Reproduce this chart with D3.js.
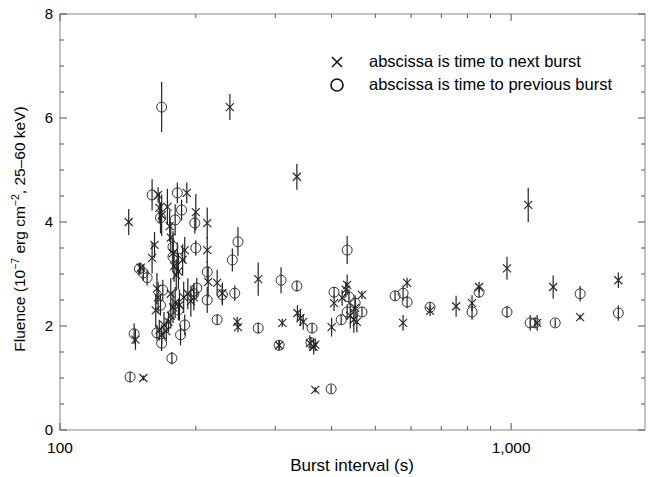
<!DOCTYPE html>
<html><head><meta charset="utf-8">
<script src="https://cdn.jsdelivr.net/npm/d3@7"></script>
<style>body{margin:0;background:#fff}svg{display:block}</style>
</head><body>
<svg id="c" width="653" height="477"></svg>
<script>
// [interval (s), fluence, error]
const nextBurst = [
[142,4.0,0.25],[153,1.0,0.05],[147,1.74,0.2],[151,3.12,0.1],[160,3.31,0.3],[162,3.56,0.25],
[165,4.52,0.15],[168,4.13,0.4],[166,4.27,0.3],[173,4.29,0.35],[164,2.72,0.3],[165,2.55,0.3],
[163,2.3,0.3],[166,1.92,0.2],[168,1.83,0.2],[170,2.02,0.25],[172,1.9,0.2],[174,2.08,0.2],
[176,2.2,0.25],[178,2.36,0.3],[176,2.62,0.3],[175,3.92,0.3],[176,3.7,0.3],[178,3.4,0.3],
[179,3.15,0.3],[181,2.98,0.3],[183,3.05,0.35],[187,3.27,0.3],[189,3.46,0.25],[191,4.56,0.2],
[200,4.19,0.35],[212,3.98,0.3],[212,3.46,0.25],[180,2.45,0.3],[184,2.4,0.3],[188,2.55,0.3],
[195,2.48,0.3],[192,2.62,0.3],[198,2.55,0.25],[213,2.85,0.3],[223,2.83,0.25],[229,2.63,0.2],
[238,6.21,0.25],[247,2.08,0.1],[248,1.98,0.1],[275,2.9,0.32],[311,2.06,0.08],[306,1.63,0.1],
[336,2.25,0.15],[341,2.15,0.15],[346,2.08,0.15],[335,4.87,0.25],[358,1.67,0.15],[365,1.6,0.15],
[368,1.64,0.12],[368,0.77,0.05],[400,1.98,0.18],[405,2.44,0.15],[422,2.54,0.15],[433,2.79,0.2],
[430,2.7,0.15],[467,2.6,0.08],[451,2.35,0.2],[440,2.2,0.25],[448,2.12,0.25],[455,2.08,0.2],
[576,2.06,0.15],[588,2.83,0.1],[661,2.29,0.1],[755,2.38,0.2],[819,2.44,0.15],[849,2.75,0.1],
[979,3.11,0.22],[1091,4.33,0.33],[1142,2.06,0.15],[1239,2.75,0.22],[1422,2.17,0.05],[1728,2.88,0.15]
];
const prevBurst = [
[143,1.02,0.1],[146,1.85,0.2],[150,3.1,0.12],[153,3.02,0.15],[156,2.93,0.15],[160,4.52,0.3],
[168,6.21,0.48],[167,4.08,0.3],[180,4.04,0.3],[182,4.56,0.2],[186,4.23,0.2],[178,3.52,0.3],
[182,3.31,0.3],[199,3.98,0.2],[200,3.5,0.15],[212,3.04,0.2],[201,2.73,0.2],[198,2.62,0.2],
[229,2.6,0.2],[244,2.63,0.15],[241,3.27,0.22],[248,3.62,0.28],[223,2.12,0.1],[275,1.96,0.1],
[309,2.88,0.25],[335,2.77,0.1],[306,1.63,0.08],[362,1.96,0.1],[360,1.68,0.1],[433,3.46,0.27],
[405,2.65,0.1],[437,2.56,0.15],[420,2.12,0.1],[433,2.27,0.15],[451,2.44,0.15],[467,2.27,0.1],
[399,0.79,0.08],[553,2.58,0.1],[576,2.63,0.15],[588,2.46,0.12],[661,2.36,0.1],[819,2.27,0.15],
[849,2.65,0.1],[979,2.27,0.12],[1102,2.06,0.15],[1130,2.06,0.1],[1252,2.06,0.08],[1422,2.62,0.15],
[1728,2.25,0.15],[164,1.87,0.15],[168,1.67,0.15],[167,2.4,0.2],[177,1.38,0.12],[178,3.33,0.3],
[169,2.69,0.2],[183,2.31,0.2],[189,2.02,0.2],[185,1.83,0.2],[212,2.5,0.25]
];
const xDomain = [100, 1980];
const yDomain = [0, 8];
const xTickLabels = [[100,"100"],[1000,"1,000"]];
const yTickLabels = [0,2,4,6,8];
const legendLabels = ["abscissa is time to next burst","abscissa is time to previous burst"];

const svg = d3.select("#c");
const font = "'Liberation Sans', Arial, Helvetica, sans-serif";
const L=60, R=645, T=14, B=430;
const x = d3.scaleLog().domain(xDomain).range([L,R]);
const y = d3.scaleLinear().domain(yDomain).range([B,T]);

// frame
svg.append("rect").attr("x",L).attr("y",T).attr("width",R-L).attr("height",B-T)
  .attr("fill","none").attr("stroke","#888").attr("stroke-width",1);

// y ticks
const yMinor = d3.range(0,8.01,0.5);
yMinor.forEach(v=>{
  const major = Number.isInteger(v) && v%2===0;
  const len = major?7:4;
  svg.append("line").attr("x1",L).attr("x2",L+len).attr("y1",y(v)).attr("y2",y(v)).attr("stroke","#555");
  svg.append("line").attr("x1",R).attr("x2",R-len).attr("y1",y(v)).attr("y2",y(v)).attr("stroke","#555");
});
// x ticks
const xt = [100,200,300,400,500,600,700,800,900,1000];
xt.forEach(v=>{
  const len = (v===100||v===1000)?7:4;
  svg.append("line").attr("x1",x(v)).attr("x2",x(v)).attr("y1",B).attr("y2",B-len).attr("stroke","#555");
  svg.append("line").attr("x1",x(v)).attr("x2",x(v)).attr("y1",T).attr("y2",T+len).attr("stroke","#555");
});

// tick labels
yTickLabels.forEach(v=>{
  svg.append("text").attr("x",L-7).attr("y",y(v)+5).attr("text-anchor","end")
    .attr("font-family",font).attr("font-size",15).text(v);
});
xTickLabels.forEach(([v,t])=>{
  svg.append("text").attr("x",x(v)).attr("y",453).attr("text-anchor","middle")
    .attr("font-family",font).attr("font-size",15.5).text(t);
});

// axis titles
svg.append("text").attr("x",352).attr("y",471).attr("text-anchor","middle")
  .attr("font-family",font).attr("font-size",17).text("Burst interval (s)");
const yt = svg.append("text").attr("transform","translate(25,229) rotate(-90)")
  .attr("text-anchor","middle").attr("font-family",font).attr("font-size",15.5);
yt.append("tspan").text("Fluence (10");
yt.append("tspan").attr("dy",-6).attr("font-size",10.5).text("−7");
yt.append("tspan").attr("dy",6).text(" erg cm");
yt.append("tspan").attr("dy",-6).attr("font-size",10.5).text("−2");
yt.append("tspan").attr("dy",6).text(", 25–60 keV)");

// data
const g = svg.append("g");
function errBars(data){
  g.selectAll(null).data(data).enter().append("line")
    .attr("x1",d=>x(d[0])).attr("x2",d=>x(d[0]))
    .attr("y1",d=>y(d[1]-d[2])).attr("y2",d=>y(d[1]+d[2]))
    .attr("stroke","#222").attr("stroke-width",1.2);
}
errBars(prevBurst);
errBars(nextBurst);
g.selectAll(null).data(prevBurst).enter().append("circle")
  .attr("cx",d=>x(d[0])).attr("cy",d=>y(d[1])).attr("r",5)
  .attr("fill","none").attr("stroke","#333").attr("stroke-width",1);
const s=4;
g.selectAll(null).data(nextBurst).enter().append("path")
  .attr("d",d=>{const cx=x(d[0]),cy=y(d[1]);return `M${cx-s},${cy-s}L${cx+s},${cy+s}M${cx-s},${cy+s}L${cx+s},${cy-s}`;})
  .attr("stroke","#222").attr("stroke-width",1.1).attr("fill","none");

// legend
const lx=337, ly1=62, ly2=85;
svg.append("path").attr("d",`M${lx-5},${ly1-5}L${lx+5},${ly1+5}M${lx-5},${ly1+5}L${lx+5},${ly1-5}`)
  .attr("stroke","#111").attr("stroke-width",1.5);
svg.append("circle").attr("cx",lx).attr("cy",ly2).attr("r",6).attr("fill","none").attr("stroke","#111").attr("stroke-width",1.6);
svg.append("text").attr("x",369).attr("y",ly1+5).attr("font-family",font).attr("font-size",16.5).text(legendLabels[0]);
svg.append("text").attr("x",369).attr("y",ly2+5).attr("font-family",font).attr("font-size",16.5).text(legendLabels[1]);
</script>
</body></html>
